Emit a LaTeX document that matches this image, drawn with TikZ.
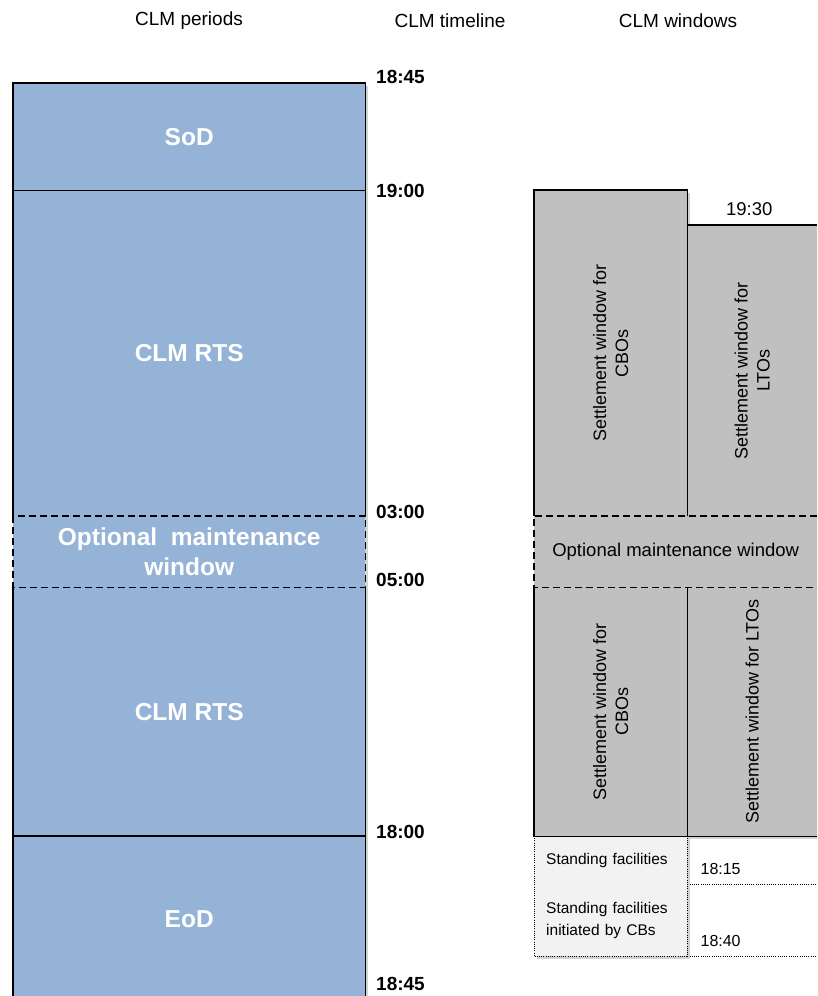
\documentclass[tikz,border=0pt]{standalone}
\usepackage{fontspec}
\setmainfont{Liberation Sans}
\usetikzlibrary{positioning,shadows}
\definecolor{ink}{HTML}{000000}
\definecolor{periodfill}{HTML}{95B3D7}
\definecolor{windowfill}{HTML}{C0C0C0}
\definecolor{facilityfill}{HTML}{F2F2F2}
\tikzset{
  every node/.style={text=ink},
  box/.style={anchor=north west, inner sep=0pt, draw=none,
    drop shadow={shadow xshift=2.5pt, shadow yshift=-2.5pt, opacity=.35}},
  period/.style={box, fill=periodfill, align=center,
    font=\fontsize{24.5}{30}\selectfont\bfseries},
  window/.style={box, fill=windowfill},
  facility/.style={box, fill=facilityfill, inner xsep=12pt, text width=129pt,
    align=left, font=\fontsize{15.5}{22}\selectfont},
  winlabel/.style={rotate=90, align=center, font=\fontsize{18}{22}\selectfont},
  header/.style={font=\fontsize{19}{22}\selectfont},
  timelbl/.style={anchor=west, inner sep=0pt, font=\fontsize{19}{22}\selectfont\bfseries},
  cutoff/.style={anchor=base west, inner sep=0pt, font=\fontsize{16}{20}\selectfont},
  frame/.style={draw=ink, line width=1.5pt},
  gap/.style={dash pattern=on 7pt off 4pt},
  dotline/.style={draw=ink, line width=.9pt, dash pattern=on .9pt off 1.3pt}
}
\begin{document}
\begin{tikzpicture}[x=1pt,y=-1pt]
\useasboundingbox (0,0) rectangle (817,996);
\clip (0,0) rectangle (817,996);

% column headers
\node[header] (hperiods) at (189,21) {CLM periods};
\node[header] (htimeline) at (450,21) {CLM timeline};
\node[header] (hwindows) at (678,21) {CLM windows};

% CLM periods
\node[period, minimum width=352, minimum height=107] (sod) at (13,83) {\textcolor{white}{SoD}};
\node[period, minimum width=352, minimum height=326] (rts1) at (13,190) {\textcolor{white}{CLM RTS}};
\node[period, minimum width=352, minimum height=71] (maint) at (13,516)
  {\textcolor{white}{Optional\ \ maintenance}\\\textcolor{white}{window}};
\node[period, minimum width=352, minimum height=249] (rts2) at (13,587) {\textcolor{white}{CLM RTS}};
\node[period, minimum width=352, minimum height=166] (eod) at (13,836) {\textcolor{white}{EoD}};

\draw[frame] (maint.north west) |- (sod.north east) -- (maint.north east);
\draw[frame] (sod.south west) -- (sod.south east);
\draw[frame, gap] (maint.north west) rectangle (maint.south east);
\draw[frame] (rts2.north west) -- (eod.south west);
\draw[frame] (rts2.north east) -- (eod.south east);
\draw[frame] (eod.north west) -- (eod.north east);

% CLM timeline
\node[timelbl] (t1845a) at (376,77) {18:45};
\node[timelbl] (t1900) at (376,191) {19:00};
\node[timelbl] (t0300) at (376,512) {03:00};
\node[timelbl] (t0500) at (376,580) {05:00};
\node[timelbl] (t1800) at (376,832) {18:00};
\node[timelbl] (t1845b) at (376,984) {18:45};

% CLM windows
\node[window, minimum width=153, minimum height=326] (cbo1) at (534,190) {};
\node[window, minimum width=130, minimum height=291] (lto1) at (687,225) {};
\node[window, minimum width=283, minimum height=71, font=\fontsize{18.5}{22}\selectfont]
  (maintR) at (534,516) {Optional maintenance window};
\node[window, minimum width=153, minimum height=249] (cbo2) at (534,587) {};
\node[window, minimum width=130, minimum height=249] (lto2) at (687,587) {};
\node[facility, minimum height=48] (sf1) at (534,836) {Standing facilities};
\node[facility, minimum height=72] (sf2) at (534,884) {Standing facilities\\initiated by CBs};

\node[winlabel] (cbo1lbl) at (cbo1.center) {Settlement window for\\CBOs};
\node[winlabel] (lto1lbl) at (lto1.center) {Settlement window for\\LTOs};
\node[winlabel] (cbo2lbl) at (cbo2.center) {Settlement window for\\CBOs};
\node[winlabel] (lto2lbl) at (lto2.center) {Settlement window for LTOs};

\draw[frame] (cbo1.south west) |- (cbo1.north east) -- (cbo1.south east);
\draw[frame] (lto1.north west) -- (lto1.north east);
\draw[frame, gap] (maintR.north east) -| (maintR.south west) -- (maintR.south east);
\draw[dotline] (sf1.north west) rectangle (sf2.south east);
\draw[dotline] (sf1.south east) -- (sf1.south -| lto2.east);
\draw[dotline] (sf2.south east) -- (sf2.south -| lto2.east);
\draw[frame] (cbo2.north west) |- (lto2.south east);
\draw[frame] (cbo2.north east) -- (cbo2.south east);

% window cut-off times
\node[anchor=base, inner sep=0pt, font=\fontsize{18.5}{22}\selectfont] (t1930)
  at ([xshift=-3pt, yshift=10pt]lto1.north) {19:30};
\node[cutoff] (t1815) at ([xshift=13pt, yshift=10pt]sf1.south east) {18:15};
\node[cutoff] (t1840) at ([xshift=13pt, yshift=10pt]sf2.south east) {18:40};

\end{tikzpicture}
\end{document}
